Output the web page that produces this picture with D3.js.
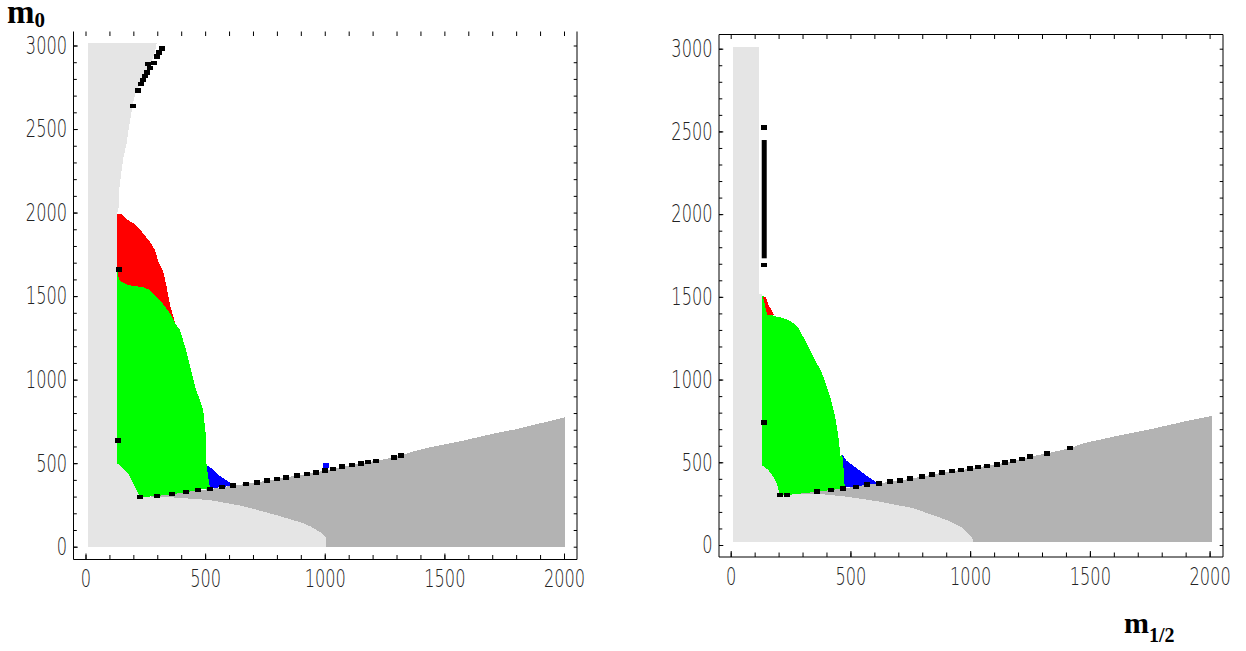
<!DOCTYPE html>
<html>
<head>
<meta charset="utf-8">
<script src="https://cdn.jsdelivr.net/npm/d3@7"></script>
<style>
  body { margin: 0; background: #fff; }
  svg { display: block; }
  .axis .domain { display: none; }
  .axis line { stroke: #000; }
  .axis text { font-family: "DejaVu Sans", sans-serif; font-weight: 200; font-size: 24.5px; fill: #222; }
  .lbl { font-family: "Liberation Serif", "DejaVu Serif", serif; font-weight: bold; fill: #000; }
</style>
</head>
<body>
<svg id="chart" width="1246" height="651"></svg>
<script>
// tick values
const xTicks = [0, 500, 1000, 1500, 2000];
const yTicks = [0, 500, 1000, 1500, 2000, 2500, 3000];
const xMinor = d3.range(0, 2001, 100);
const yMinor = d3.range(0, 3001, 100);

// ---- left plot: regions as [m1/2, m0] outlines ----
const lightGrayL = [[10,0],[10,3013],[297,3013],[290,2960],[275,2900],[255,2830],[235,2770],[210,2730],[197,2640],
  [182,2514],[172,2415],[158,2325],[148,2225],[141,2135],[138,2026],[132,1995],[132,499],[151,479],[172,449],
  [186,419],[200,380],[214,339],[228,297],[365,295],[519,279],[658,243],[798,189],[867,159],[895,149],[940,122],
  [979,89],[1000,65],[1007,50],[1007,0]];
const darkGrayL = [[228,296],[297,303],[360,314],[420,326],[469,339],[520,344],[569,356],[617,365],[669,375],
  [715,385],[757,395],[799,405],[837,415],[882,425],[924,435],[963,445],[1000,455],[1035,465],[1074,479],
  [1112,489],[1151,499],[1181,507],[1216,513],[1289,535],[1317,547],[1383,575],[1453,599],[1523,619],[1592,639],
  [1662,663],[1731,685],[1801,703],[1871,729],[1940,751],[2006,775],[2006,0],[228,0]];
const greenL = [[132,499],[132,1656],[140,1600],[151,1586],[179,1567],[200,1561],[241,1553],[269,1537],[290,1507],
  [311,1477],[332,1437],[353,1397],[374,1337],[395,1297],[420,1178],[441,1058],[462,938],[478,878],[492,818],
  [502,679],[506,489],[520,350],[469,339],[420,326],[360,314],[297,303],[228,297],[214,339],[200,380],[186,419],
  [172,449],[151,479]];
const redL = [[132,1656],[132,1990],[151,1990],[172,1960],[207,1930],[235,1886],[269,1826],[290,1776],[304,1710],
  [325,1646],[339,1556],[353,1447],[367,1377],[374,1337],[353,1397],[332,1437],[311,1477],[290,1507],[269,1537],
  [241,1553],[200,1561],[179,1567],[151,1586],[140,1600]];
const blueL = [[506,489],[527,469],[548,439],[576,409],[604,383],[617,367],[569,356],[520,350]];
const blueDotL = [[1007,485]];
const squaresL = [[321,2983],[307,2957],[297,2933],[287,2894],[262,2889],[269,2864],[258,2837],[249,2818],
  [241,2794],[232,2770],[221,2730],[197,2637],[140,1658],[137,635],
  [228,296],[297,303],[360,314],[420,326],[469,339],[520,344],[569,356],[617,365],[669,375],[715,385],[757,395],
  [799,405],[837,415],[882,425],[924,435],[963,445],[1000,455],[1035,465],[1074,479],[1112,489],[1151,499],
  [1181,507],[1216,513],[1289,535],[1317,547]];

// ---- right plot ----
const lightGrayR = [[8,20],[8,3009],[120,3009],[120,1520],[129,1520],[129,484],[157,453],[178,413],[192,373],
  [206,305],[359,310],[484,292],[624,262],[763,222],[902,151],[971,101],[1006,50],[1013,20]];
const darkGrayR = [[206,302],[236,302],[359,322],[418,332],[470,343],[522,352],[570,365],[621,371],[665,383],
  [707,389],[749,401],[798,413],[839,425],[881,437],[923,446],[961,453],[999,461],[1034,470],[1072,478],
  [1111,488],[1146,498],[1180,508],[1215,520],[1250,534],[1320,554],[1417,585],[1473,615],[1612,659],[1751,699],
  [1890,745],[2009,780],[2009,20],[206,20]];
const greenR = [[129,484],[129,1507],[140,1507],[150,1440],[165,1400],[177,1386],[218,1372],[246,1356],[267,1336],
  [281,1315],[295,1275],[309,1245],[323,1205],[337,1164],[351,1124],[365,1084],[379,1044],[393,993],[407,933],
  [420,873],[434,792],[444,711],[452,631],[458,540],[466,547],[472,450],[476,349],[470,343],[418,332],[359,322],
  [236,302],[206,302],[192,373],[178,413],[157,453]];
const redR = [[136,1501],[147,1501],[157,1450],[171,1420],[180,1392],[153,1392],[147,1420],[143,1450],[136,1490]];
const blueR = [[466,547],[483,510],[511,480],[539,450],[567,420],[594,394],[615,373],[570,365],[522,352],
  [476,349],[472,450]];
const barR = [[140,1733,2448]];   // x, m0 from, m0 to
const squaresR = [[139,2523],[139,1693],[139,739],
  [206,302],[236,302],[359,322],[418,332],[470,343],[522,352],[570,365],[621,371],[665,383],[707,389],[749,401],
  [798,413],[839,425],[881,437],[923,446],[961,453],[999,461],[1034,470],[1072,478],[1111,488],[1146,498],
  [1180,508],[1215,520],[1250,534],[1320,554],[1417,585]];

const svg = d3.select("#chart");
const narrow = 0.66;   // squeeze tick digits horizontally

function drawPanel(p, d) {
  const x = d3.scaleLinear().domain([0, 2000]).range(p.xr);
  const y = d3.scaleLinear().domain([0, 3000]).range(p.yr);
  const g = svg.append("g");
  const line = d3.line().x(v => x(v[0])).y(v => y(v[1]));

  const layers = [[d.darkGray, "#b3b3b3"], [d.lightGray, "#e5e5e5"], [d.green, "#00ff00"],
                  [d.red, "#ff0000"], [d.blue, "#0000ff"]];
  layers.forEach(([pts, col]) => {
    g.append("path").attr("d", line(pts) + "Z").attr("fill", col)
      .attr("shape-rendering", "crispEdges");
  });

  // black bars
  g.selectAll(".bar").data(d.bars).join("rect")
    .attr("x", v => x(v[0]) - 2.5).attr("width", 5)
    .attr("y", v => y(v[2])).attr("height", v => y(v[1]) - y(v[2]))
    .attr("fill", "#000");

  // markers
  const sq = (sel, pts, col) => sel.selectAll(null).data(pts).join("rect")
    .attr("x", v => x(v[0]) - 3).attr("y", v => y(v[1]) - 2.25)
    .attr("width", 6).attr("height", 4.5).attr("fill", col)
    .attr("shape-rendering", "crispEdges");
  sq(g, d.squares, "#000");
  sq(g, d.blueDots, "#0000ff");

  // frame
  const f = p.frame;
  const fr = g.append("path").attr("fill", "none").attr("stroke", "#000").attr("stroke-width", 1);
  if (p.topLine) fr.attr("d", `M${f.l},${f.t}H${f.r}V${f.b}H${f.l}Z`);
  else fr.attr("d", `M${f.l},${f.t}V${f.b}H${f.r}V${f.t}`);

  // ticks, pointing inward on all four sides
  const fmt = d3.format("d");
  g.append("g").attr("class", "axis").attr("transform", `translate(0,${f.b})`)
    .call(d3.axisBottom(x).tickValues(xMinor).tickSize(-4.5).tickFormat(""));
  g.append("g").attr("class", "axis").attr("transform", `translate(0,${f.b})`)
    .call(d3.axisBottom(x).tickValues(xTicks).tickSize(-6).tickPadding(10.5).tickFormat(fmt))
    .selectAll("text").attr("transform", `scale(${narrow},1)`);
  g.append("g").attr("class", "axis").attr("transform", `translate(0,${f.t})`)
    .call(d3.axisTop(x).tickValues(xMinor).tickSize(-4.5).tickFormat(""));
  g.append("g").attr("class", "axis").attr("transform", `translate(${f.l},0)`)
    .call(d3.axisLeft(y).tickValues(yMinor).tickSize(-3.3).tickFormat(""));
  g.append("g").attr("class", "axis").attr("transform", `translate(${f.l},0)`)
    .call(d3.axisLeft(y).tickValues(yTicks).tickSize(-4.3).tickPadding(6.5).tickFormat(fmt))
    .selectAll("text").attr("x", -6.5 / narrow).attr("transform", `scale(${narrow},1)`);
  g.append("g").attr("class", "axis").attr("transform", `translate(${f.r},0)`)
    .call(d3.axisRight(y).tickValues(yMinor).tickSize(-3.3).tickFormat(""));
}

drawPanel(
  {xr: [85.5, 564], yr: [546.7, 45.5], frame: {l: 73.5, r: 577, t: 31.5, b: 559.5}, topLine: false},
  {lightGray: lightGrayL, darkGray: darkGrayL, green: greenL, red: redL, blue: blueL,
   squares: squaresL, blueDots: blueDotL, bars: []});
drawPanel(
  {xr: [730.7, 1209.6], yr: [545, 48.7], frame: {l: 719, r: 1223, t: 34.5, b: 557}, topLine: true},
  {lightGray: lightGrayR, darkGray: darkGrayR, green: greenR, red: redR, blue: blueR,
   squares: squaresR, blueDots: [], bars: barR});

// axis titles
const t0 = svg.append("text").attr("class", "lbl").attr("x", 7).attr("y", 23).attr("font-size", 33);
t0.append("tspan").text("m");
t0.append("tspan").attr("font-size", 21).attr("dy", 4).text("0");

const t1 = svg.append("text").attr("class", "lbl").attr("x", 1124).attr("y", 633).attr("font-size", 30);
t1.append("tspan").text("m");
t1.append("tspan").attr("font-size", 20).attr("dy", 9).text("1/2");
</script>
</body>
</html>
